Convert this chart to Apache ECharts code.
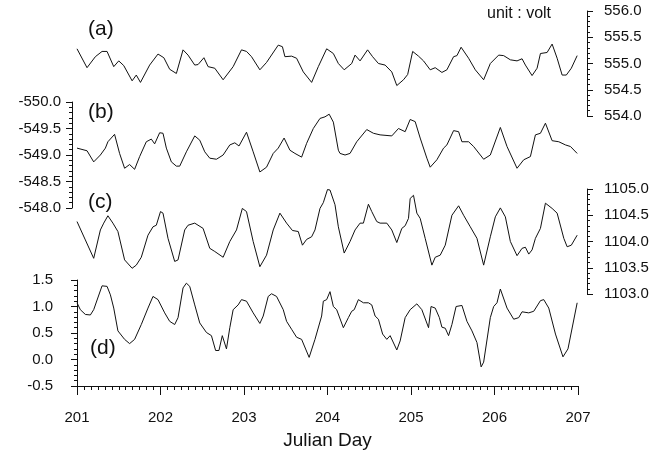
<!DOCTYPE html>
<html>
<head>
<meta charset="utf-8">
<script src="https://cdn.jsdelivr.net/npm/echarts@6/dist/echarts.min.js"></script>
<style>
    html, body { margin: 0; background: #fff; }
    #chart { width: 668px; height: 451px; }
</style>
</head>
<body>
<div id="chart"></div>
<script>
    // (a)
    const dayA = [
        201.00,201.12,201.22,201.30,201.36,201.44,201.50,201.56,201.66,201.71,
        201.76,201.87,201.97,202.04,202.11,202.19,202.27,202.33,202.41,202.45,
        202.52,202.57,202.65,202.75,202.87,202.97,203.03,203.09,203.19,203.27,
        203.41,203.46,203.49,203.57,203.63,203.71,203.81,203.89,203.99,204.07,
        204.13,204.20,204.29,204.33,204.39,204.48,204.54,204.61,204.69,204.77,
        204.83,204.91,204.96,205.02,205.09,205.15,205.23,205.29,205.37,205.43,
        205.51,205.55,205.60,205.69,205.77,205.87,205.95,206.05,206.11,206.19,
        206.27,206.33,206.37,206.45,206.51,206.55,206.63,206.69,206.75,206.81,
        206.86,206.92,206.99
    ];
    const voltA = [
        555.28,554.92,555.13,555.23,555.23,554.94,555.05,554.96,554.67,554.78,
        554.64,554.97,555.18,555.11,554.89,554.81,555.26,555.16,554.97,554.98,
        555.11,554.94,554.91,554.69,554.94,555.26,555.23,555.13,554.88,555.02,
        555.35,555.32,555.13,555.14,555.10,554.84,554.64,554.94,555.28,555.19,
        555.00,554.88,555.00,555.16,555.05,555.26,555.13,555.00,554.97,554.84,
        554.58,554.69,554.79,555.23,555.14,555.05,554.88,554.92,554.83,554.88,
        555.13,555.15,555.31,555.10,554.88,554.69,555.00,555.16,555.15,555.07,
        555.05,555.09,554.97,554.77,554.91,555.19,555.21,555.37,555.10,554.78,
        554.78,554.91,555.15
    ];

    // (b)
    const dayB = [
        201.00,201.12,201.20,201.28,201.34,201.37,201.45,201.51,201.57,201.63,
        201.69,201.75,201.83,201.89,201.93,201.99,202.03,202.07,202.13,202.19,
        202.23,202.31,202.41,202.47,202.53,202.59,202.67,202.75,202.83,202.89,
        202.94,203.03,203.11,203.19,203.27,203.35,203.41,203.48,203.55,203.61,
        203.69,203.75,203.83,203.91,203.97,204.02,204.07,204.13,204.15,204.21,
        204.27,204.35,204.47,204.55,204.63,204.77,204.85,204.93,204.99,205.05,
        205.11,205.19,205.23,205.31,205.39,205.43,205.51,205.57,205.61,205.69,
        205.75,205.87,205.95,206.07,206.15,206.27,206.35,206.43,206.49,206.55,
        206.61,206.69,206.77,206.85,206.91,206.99
    ];
    const voltB = [
        -549.13,-549.08,-548.87,-549.00,-549.13,-549.25,-549.39,-549.03,-548.75,-548.82,
        -548.73,-548.97,-549.25,-549.30,-549.21,-549.42,-549.41,-549.13,-548.87,-548.79,
        -548.79,-549.06,-549.36,-549.28,-549.06,-548.94,-548.92,-549.00,-549.19,-549.23,
        -549.17,-549.43,-549.06,-548.68,-548.77,-549.03,-549.13,-549.32,-549.09,-549.03,
        -548.96,-549.22,-549.50,-549.69,-549.72,-549.77,-549.62,-549.09,-549.03,-549.00,
        -549.03,-549.25,-549.48,-549.41,-549.38,-549.36,-549.50,-549.44,-549.67,-549.63,
        -549.32,-548.94,-548.77,-548.91,-549.13,-549.19,-549.46,-549.44,-549.25,-549.25,
        -549.16,-548.92,-549.00,-549.52,-549.16,-548.75,-548.91,-548.97,-549.38,-549.41,
        -549.60,-549.27,-549.25,-549.19,-549.16,-549.03
    ];

    // (c)
    const dayC = [
        201.00,201.10,201.20,201.28,201.32,201.37,201.43,201.49,201.57,201.66,
        201.71,201.77,201.85,201.91,201.95,202.00,202.03,202.09,202.17,202.21,
        202.29,202.33,202.41,202.51,202.59,202.65,202.75,202.83,202.91,202.98,
        203.03,203.11,203.19,203.27,203.35,203.43,203.51,203.58,203.65,203.70,
        203.75,203.81,203.85,203.91,203.95,204.00,204.03,204.09,204.13,204.20,
        204.27,204.33,204.39,204.43,204.49,204.53,204.59,204.63,204.71,204.77,
        204.83,204.89,204.93,204.97,204.99,205.03,205.07,205.11,205.17,205.25,
        205.29,205.35,205.41,205.49,205.57,205.63,205.71,205.79,205.87,205.95,
        206.01,206.07,206.13,206.19,206.27,206.33,206.37,206.41,206.45,206.49,
        206.55,206.61,206.63,206.69,206.75,206.83,206.87,206.92,206.99
    ];
    const voltC = [
        1104.38,1104.03,1103.68,1104.22,1104.35,1104.49,1104.35,1104.19,1103.65,1103.49,
        1103.55,1103.70,1104.12,1104.28,1104.31,1104.57,1104.54,1104.06,1103.62,1103.65,
        1104.22,1104.31,1104.35,1104.25,1103.87,1103.81,1103.70,1104.00,1104.22,1104.63,
        1104.57,1104.00,1103.52,1103.74,1104.22,1104.54,1104.35,1104.21,1104.19,1103.93,
        1104.04,1104.09,1104.22,1104.63,1104.74,1104.99,1104.98,1104.70,1104.28,1103.78,
        1104.00,1104.22,1104.35,1104.35,1104.71,1104.57,1104.38,1104.35,1104.35,1104.22,
        1103.98,1104.25,1104.30,1104.44,1104.82,1104.88,1104.54,1104.44,1104.06,1103.55,
        1103.70,1103.74,1103.93,1104.50,1104.68,1104.50,1104.28,1104.06,1103.55,1104.09,
        1104.47,1104.64,1104.47,1104.00,1103.73,1103.87,1103.89,1103.76,1103.84,1104.06,
        1104.25,1104.73,1104.76,1104.63,1104.54,1104.06,1103.90,1103.93,1104.12
    ];

    // (d)
    const dayD = [
        201.00,201.04,201.10,201.16,201.20,201.30,201.36,201.40,201.44,201.49,
        201.57,201.63,201.69,201.77,201.85,201.91,201.97,202.05,202.11,202.17,
        202.21,202.27,202.31,202.35,202.41,202.47,202.55,202.61,202.66,202.70,
        202.74,202.79,202.83,202.87,202.93,202.97,203.03,203.11,203.19,203.23,
        203.29,203.33,203.39,203.47,203.51,203.57,203.63,203.69,203.78,203.85,
        203.93,203.95,203.99,204.03,204.07,204.11,204.19,204.25,204.29,204.32,
        204.37,204.43,204.49,204.53,204.57,204.61,204.66,204.71,204.75,204.83,
        204.87,204.93,204.99,205.07,205.13,205.21,205.24,205.29,205.34,205.37,
        205.41,205.45,205.49,205.54,205.61,205.67,205.73,205.79,205.84,205.87,
        205.95,205.99,206.03,206.07,206.15,206.23,206.29,206.33,206.41,206.47,
        206.55,206.59,206.65,206.73,206.82,206.88,206.99
    ];
    const voltD = [
        1.07,0.94,0.85,0.84,0.94,1.39,1.38,1.22,0.97,0.54,
        0.38,0.30,0.38,0.66,0.97,1.19,1.13,0.88,0.72,0.66,
        0.79,1.35,1.44,1.38,1.03,0.69,0.51,0.45,0.17,0.17,
        0.45,0.20,0.60,0.94,1.03,1.13,1.10,0.88,0.68,0.82,
        1.19,1.24,1.19,0.94,0.72,0.57,0.42,0.38,0.04,0.38,
        0.82,1.10,1.13,1.28,1.00,0.94,0.60,0.79,0.91,0.94,
        1.13,1.07,1.07,1.03,0.82,0.76,0.48,0.38,0.45,0.18,
        0.35,0.79,0.94,1.05,0.94,0.60,1.00,0.97,0.79,0.61,
        0.59,0.45,0.66,1.00,1.02,0.72,0.54,0.32,-0.14,-0.05,
        0.79,1.00,1.07,1.33,0.97,0.76,0.79,0.90,0.88,0.91,
        1.11,1.13,0.97,0.48,0.05,0.20,1.07
    ];

    const panelNames = ['(a)', '(b)', '(c)', '(d)'];
    const yRanges = [[554, 556], [-550, -548], [1103, 1105], [-0.5, 1.5]];
    const dayRange = [201, 207];

    const FONT = 'Liberation Sans, Arial, sans-serif';
    const INK = '#111';

    // grid placement of each strip
    const grids = [
        { left: 77, right: 90, top: 11, height: 105 },
        { left: 77, right: 90, top: 102, height: 106 },
        { left: 77, right: 90, top: 189, height: 105 },
        { left: 77, right: 90, top: 280, height: 107 },
    ];

    function yAxisFor(i, position, offset, inverse, margin) {
        return {
            type: 'value',
            gridIndex: i,
            position: position,
            offset: offset,
            inverse: inverse,
            min: yRanges[i][0],
            max: yRanges[i][1],
            interval: 0.5,
            axisLine: { show: true, onZero: false, lineStyle: { color: INK, width: 1 } },
            axisTick: { show: true, length: 6, lineStyle: { color: INK, width: 1 } },
            minorTick: { show: true, splitNumber: 5, length: 3, lineStyle: { color: INK, width: 1 } },
            splitLine: { show: false },
            axisLabel: {
                color: INK, fontFamily: FONT, fontSize: 15, margin: margin,
                formatter: v => v.toFixed(1)
            }
        };
    }

    function xAxisFor(i) {
        const shown = i === 3;
        return {
            type: 'value',
            gridIndex: i,
            min: dayRange[0],
            max: dayRange[1],
            interval: 1,
            show: shown,
            name: shown ? 'Julian Day' : '',
            nameLocation: 'middle',
            nameGap: 45,
            nameTextStyle: { color: INK, fontFamily: FONT, fontSize: 19 },
            axisLine: { show: true, onZero: false, lineStyle: { color: INK, width: 1 } },
            axisTick: { show: true, length: 9, lineStyle: { color: INK, width: 1 } },
            minorTick: { show: true, splitNumber: 12, length: 4, lineStyle: { color: INK, width: 1 } },
            splitLine: { show: false },
            axisLabel: { color: INK, fontFamily: FONT, fontSize: 15, margin: 24 }
        };
    }

    function seriesFor(i, days, volts) {
        return {
            type: 'line',
            xAxisIndex: i,
            yAxisIndex: i,
            data: days.map((d, k) => [d, volts[k]]),
            showSymbol: false,
            clip: false,
            lineStyle: { color: INK, width: 1 }
        };
    }

    const labelPos = [[88, 30], [88, 113], [88, 203], [90, 349]];

    const chart = echarts.init(document.getElementById('chart'));
    chart.setOption({
        backgroundColor: '#fff',
        animation: false,
        grid: grids,
        xAxis: [0, 1, 2, 3].map(xAxisFor),
        yAxis: [
            yAxisFor(0, 'right', 9, false, 17),
            yAxisFor(1, 'left', 5, true, 11),
            yAxisFor(2, 'right', 9, false, 17),
            yAxisFor(3, 'left', 0, false, 24),
        ],
        series: [
            seriesFor(0, dayA, voltA),
            seriesFor(1, dayB, voltB),
            seriesFor(2, dayC, voltC),
            seriesFor(3, dayD, voltD),
        ],
        graphic: panelNames.map((t, i) => ({
            type: 'text',
            left: labelPos[i][0],
            top: labelPos[i][1] - 11,
            style: { text: t, fill: INK, font: '21px ' + FONT }
        })).concat([{
            type: 'text',
            left: 487,
            top: 6,
            style: { text: 'unit : volt', fill: INK, font: '16px ' + FONT }
        }])
    });
</script>
</body>
</html>
